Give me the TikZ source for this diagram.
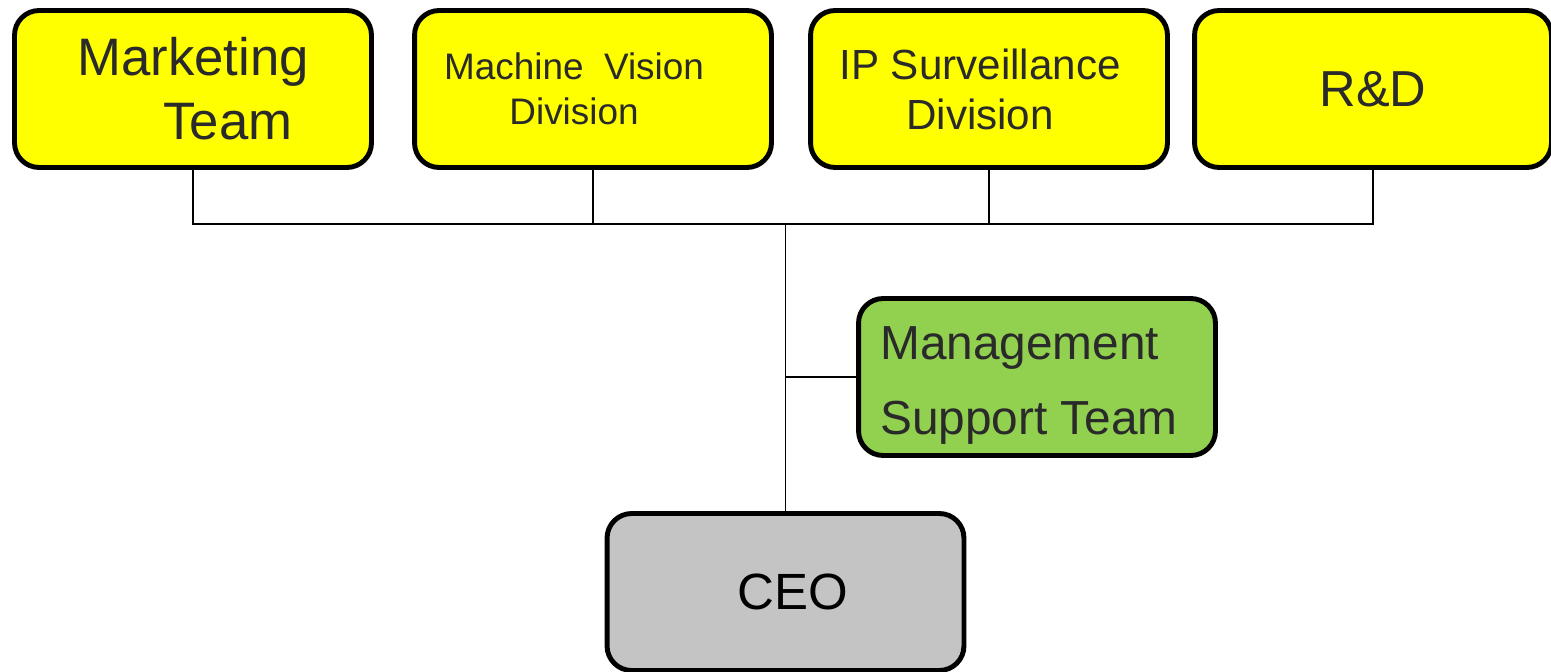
\documentclass[tikz,border=0pt]{standalone}
\usepackage{fontspec}
\setmainfont{Liberation Sans}
\usepackage{tikz}
\usetikzlibrary{positioning,calc}
\definecolor{UnitYellow}{RGB}{255,255,0}
\definecolor{SupportGreen}{RGB}{146,208,80}
\definecolor{HeadGray}{RGB}{196,196,196}
\definecolor{InkGray}{RGB}{42,42,42}
\tikzset{
	unit/.style={draw=black,line width=2.8pt,rounded corners=14pt,inner sep=0pt,
		minimum width=7.14cm,minimum height=3.14cm,text=InkGray,align=center},
	link/.style={draw=black,line width=0.8pt},
}

\begin{document}
\begin{tikzpicture}[x=0.02cm,y=-0.02cm]
			\useasboundingbox (0,0) rectangle (1551,672);
			\node[unit,fill=UnitYellow,font=\fontsize{30}{36.4}\selectfont] (mkt) at (193,89) {Marketing\\\hspace*{1.4cm}Team};
			\node[unit,fill=UnitYellow,font=\fontsize{21}{25.6}\selectfont] (mvd) at (593,89) {Machine\ \ Vision\hspace*{0.76cm}\\Division\hspace*{0.76cm}};
			\node[unit,fill=UnitYellow,font=\fontsize{24}{28.5}\selectfont] (ipd) at (989,89) {IP Surveillance\hspace*{0.36cm}\\Division\hspace*{0.36cm}};
			\node[unit,fill=UnitYellow,font=\fontsize{28.8}{34}\selectfont] (rnd) at (1373,89) {R\&D};
			\node[unit,fill=SupportGreen,align=left,font=\fontsize{27.2}{42.7}\selectfont] (mst) at (1037,377) {\rule{0pt}{28pt}Management\\Support Team\hspace*{0.32cm}};
			\node[unit,fill=HeadGray,text=black,font=\fontsize{29}{34}\selectfont] (ceo) at (785.5,592) {\hspace*{0.3cm}CEO};
			\coordinate (bus) at (785,224);
			\draw[link] (mkt.south) |- (bus) -| (rnd.south);
			\draw[link] (mvd.south) -- (mvd.south |- bus);
			\draw[link] (ipd.south) -- (ipd.south |- bus);
			\draw[link] (ceo.north) -- (ceo.north |- bus);
			\draw[link] (mst.west) -- (mst.west -| ceo.north);
		\end{tikzpicture}
\end{document}
